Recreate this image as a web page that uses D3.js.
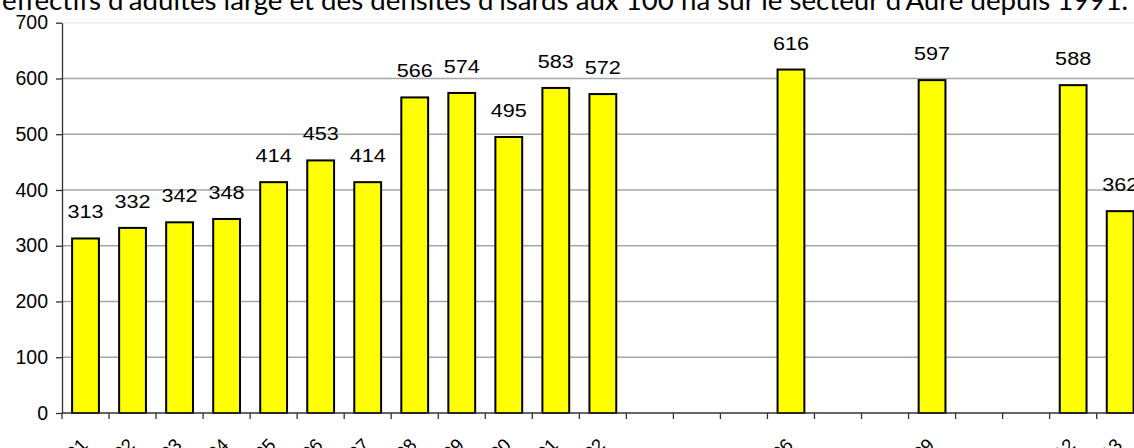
<!DOCTYPE html>
<html>
<head>
<meta charset="utf-8">
<script src="https://cdn.jsdelivr.net/npm/d3@7"></script>
<style>
  html, body { margin: 0; padding: 0; background: #fff; overflow: hidden; }
  svg { display: block; }
</style>
</head>
<body>
<svg id="chart" width="1134" height="448"></svg>
<script>
// Effectifs d'isards adultes comptés sur le secteur d'Aure
const titleText = "Evolution des effectifs d'adultes large et des densités d'isards aux 100 ha sur le secteur d'Aure depuis 1991.";
const allYears = d3.range(1991, 2014).map(String);          // every year slot on the category axis
const countYears = ["1991","1992","1993","1994","1995","1996","1997","1998","1999","2000","2001","2002","2006","2009","2012","2013"];
const counts = [313, 332, 342, 348, 414, 453, 414, 566, 574, 495, 583, 572, 616, 597, 588, 362];
const yTicks = [0, 100, 200, 300, 400, 500, 600, 700];

const W = 1134, H = 448;
const plotLeft = 62, plotTop = 22.7, plotBottom = 413;
const step = 47.03;

const svg = d3.select("#chart");

// scales
const xSlot = d3.scaleBand().domain(allYears).range([plotLeft, plotLeft + step * allYears.length]).padding(0);
const xBar = d3.scaleBand().domain(allYears).range([plotLeft, plotLeft + step * allYears.length])
  .paddingInner(0.43).paddingOuter(0.215);
const y = d3.scaleLinear().domain([0, 700]).range([plotBottom, plotTop]);

// horizontal gridlines
svg.append("g").selectAll("line").data(yTicks.filter(d => d > 0)).join("line")
  .attr("x1", plotLeft).attr("x2", W)
  .attr("y1", d => y(d)).attr("y2", d => y(d))
  .attr("stroke", d => d === 700 ? "#ececec" : "#a6a6a6")
  .attr("stroke-width", 1.4);

// bars
const data = countYears.map((yr, i) => ({ year: yr, value: counts[i] }));
svg.append("g").selectAll("rect").data(data).join("rect")
  .attr("x", d => xBar(d.year))
  .attr("y", d => y(d.value))
  .attr("width", xBar.bandwidth())
  .attr("height", d => y(0) - y(d.value))
  .attr("fill", "#ffff00")
  .attr("stroke", "#000")
  .attr("stroke-width", 2);

// value labels
svg.append("g").selectAll("text").data(data).join("text")
  .attr("transform", d => `translate(${xBar(d.year) + xBar.bandwidth() / 2},${y(d.value) - 20}) scale(1.15,1)`)
  .attr("text-anchor", "middle")
  .attr("font-family", "Liberation Sans, Arial, sans-serif")
  .attr("font-size", 18.8)
  .attr("fill", "#000")
  .text(d => d.value);

// y axis
const yAxis = d3.axisLeft(y).tickValues(yTicks).tickSize(6).tickPadding(8).tickSizeOuter(0);
const gy = svg.append("g").attr("transform", `translate(${plotLeft},0)`).call(yAxis);
gy.select(".domain").attr("stroke", "#333").attr("stroke-width", 1.3);
gy.selectAll(".tick line").attr("stroke", "#333").attr("stroke-width", 1.3);
gy.selectAll(".tick text")
  .attr("font-family", "Liberation Sans, Arial, sans-serif")
  .attr("font-size", 19.5)
  .attr("fill", "#000");

// x axis line and slot ticks
svg.append("line")
  .attr("x1", plotLeft).attr("x2", W)
  .attr("y1", plotBottom).attr("y2", plotBottom)
  .attr("stroke", "#333").attr("stroke-width", 1.3);
svg.append("g").selectAll("line").data(allYears).join("line")
  .attr("x1", d => xSlot(d)).attr("x2", d => xSlot(d))
  .attr("y1", plotBottom).attr("y2", plotBottom + 6)
  .attr("stroke", "#333").attr("stroke-width", 1.3);

// rotated year labels under the counted years
svg.append("g").selectAll("text").data(countYears).join("text")
  .attr("transform", d => `translate(${xSlot(d) + xSlot.bandwidth() / 2 - 6},${plotBottom + 24}) rotate(-45)`)
  .attr("text-anchor", "end")
  .attr("dy", "0.7em")
  .attr("font-family", "Liberation Sans, Arial, sans-serif")
  .attr("font-size", 18.5)
  .attr("fill", "#000")
  .text(d => d);

// title, anchored on its right end
svg.append("text")
  .attr("transform", "translate(1128,10) scale(1.045,1)")
  .attr("text-anchor", "end")
  .attr("font-family", "Lato, sans-serif")
  .attr("font-size", 26.5)
  .attr("fill", "#000")
  .text(titleText);
</script>
</body>
</html>
